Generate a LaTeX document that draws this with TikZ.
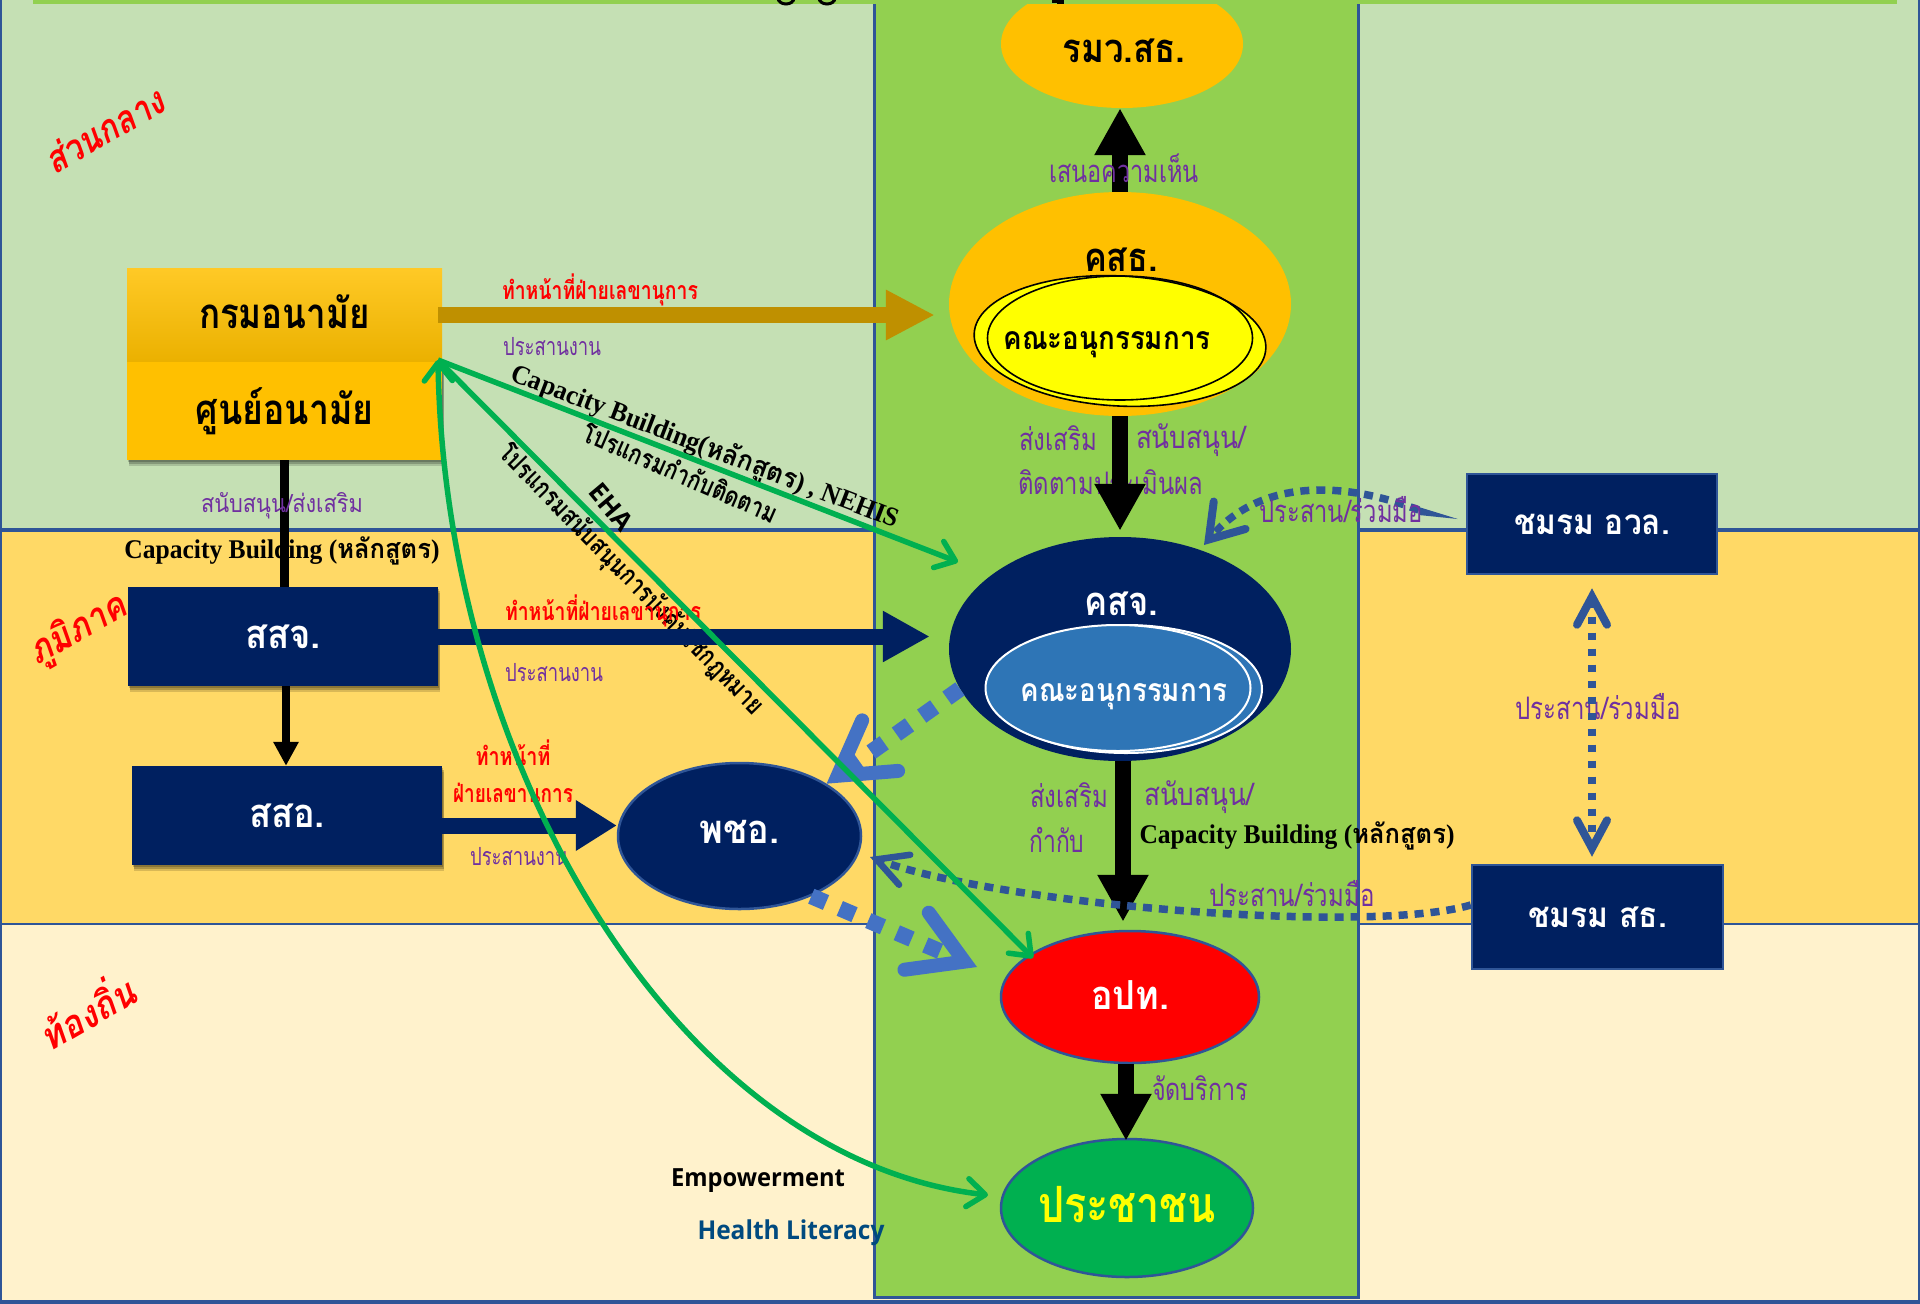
\documentclass[tikz,border=0pt]{standalone}
\usepackage{fontspec}
\usepackage{graphicx}
\usetikzlibrary{arrows.meta,shapes.geometric,shadows,calc}
\newfontfamily\thai[Script=Thai]{Loma}
\newfontfamily\serifL{Liberation Serif}
\newfontfamily\sansL{Open Sans}
\newcommand{\fitw}[2]{\resizebox{#1pt}{\height}{#2}}
\newcommand{\sz}[1]{\fontsize{#1pt}{#1pt}\selectfont}
\definecolor{bandA}{HTML}{C5E0B4}
\definecolor{bandB}{HTML}{FFD966}
\definecolor{bandC}{HTML}{FFF2CC}
\definecolor{midgreen}{HTML}{92D050}
\definecolor{edgeblue}{HTML}{2F5597}
\definecolor{navy}{HTML}{002060}
\definecolor{gold}{HTML}{FFC000}
\definecolor{darkgold}{HTML}{BF9000}
\definecolor{purp}{HTML}{7030A0}
\definecolor{lineg}{HTML}{00B050}
\definecolor{midblue}{HTML}{2E75B6}
\definecolor{dashblue}{HTML}{4472C4}
\definecolor{litblue}{HTML}{004A7F}
\definecolor{puryel}{HTML}{FFFF00}
\tikzset{
  x=1pt,y=-1pt,
  navybox/.style={rectangle,fill=navy,inner sep=0pt,text=white,font=\thai\bfseries\sz{40}},
  shadowed/.style={
    drop shadow={shadow xshift=1pt,shadow yshift=-2pt,opacity=.2,fill=black},
    drop shadow={shadow xshift=2pt,shadow yshift=-4pt,opacity=.2,fill=black},
    drop shadow={shadow xshift=2pt,shadow yshift=-6pt,opacity=.15,fill=black}},
  clubbox/.style={rectangle,fill=navy,draw=edgeblue,line width=2.5pt,inner sep=0pt,text=white,font=\thai\bfseries\sz{35}},
  oval/.style={ellipse,inner sep=0pt},
  plain/.style={inner sep=0pt,outer sep=0pt},
  redlbl/.style={plain,text=red,font=\thai\bfseries\sz{25}},
  purplbl/.style={plain,text=purp,font=\thai\sz{25}},
  purpbig/.style={plain,text=purp,font=\thai\sz{31}},
  blklbl/.style={plain,text=black,font=\thai\bfseries\sz{27}},
  zonelbl/.style={plain,text=red,font=\thai\bfseries\itshape\sz{38}},
  blockarrow/.style={line width=#1,-{Triangle[length=47pt,width=48pt]}},
  blockarrow/.default=16pt,
  greenline/.style={lineg,line width=5.5pt,-{Straight Barb[length=18pt,width=28pt,line width=5.5pt,round]}},
  dotline/.style={edgeblue,line width=7.5pt,dash pattern=on 9pt off 7pt},
  bigdash/.style={dashblue,line width=16pt,dash pattern=on 16pt off 15pt,
    -{Straight Barb[length=52pt,width=62pt,line width=14pt,line cap=round,line join=miter]}},
}
\begin{document}
\begin{tikzpicture}
\useasboundingbox (0,0) rectangle (1920,1304);
% bands
\fill[bandA] (0,0) rectangle (1920,530);
\fill[bandB] (0,530) rectangle (1920,924);
\fill[bandC] (0,924) rectangle (1920,1304);
\fill[edgeblue] (0,1300) rectangle (1920,1304);
\draw[edgeblue,line width=4pt] (0,530) -- (874,530);
\draw[edgeblue,line width=4pt] (1358,530) -- (1920,530);
\draw[edgeblue,line width=2.5pt] (0,924) -- (874,924);
\draw[edgeblue,line width=2.5pt] (1358,924) -- (1920,924);
\draw[edgeblue,line width=2pt] (1,0) -- (1,1304);
\draw[edgeblue,line width=2pt] (1919,0) -- (1919,1304);
\fill[midgreen] (33,0) rectangle (1897,4);
\fill[midgreen] (874,0) rectangle (1358,1297);
\draw[edgeblue,line width=3pt] (874,4) -- (874,1297) -- (1358,1297) -- (1358,4);
% clipped title remnants
\draw[black,line width=3pt] (786,-2) ellipse (8 and 6);
\draw[black,line width=3pt] (827,-2) ellipse (8 and 6);
\fill[black] (1057,0) rectangle (1064,7);
\fill[black] (1052,0) rectangle (1057,3);
% ovals, centre column
\begin{scope}
\clip (0,4) rectangle (1920,1304);
\node[oval,fill=gold,minimum width=242pt,minimum height=128pt] (rmw) at (1122,44) {};
\end{scope}
\node[plain,font=\thai\bfseries\sz{40}] (rmwt) at (1124,51) {\fitw{123}{รมว.สธ.}};
\node[oval,fill=gold,minimum width=342pt,minimum height=224pt] (kst) at (1120,304) {};
\node[plain,font=\thai\bfseries\sz{40}] (kstt) at (1121,260) {\fitw{74}{คสธ.}};
\node[oval,fill=puryel,draw=black,line width=1.6pt,minimum width=292pt,minimum height=130pt,rotate=-3] (sub1b) at (1120,341) {};
\node[oval,draw=black,line width=1.6pt,minimum width=265pt,minimum height=124pt] (sub1) at (1120,338) {};
\node[plain,font=\thai\bfseries\sz{32}] (sub1t) at (1107,345) {\fitw{207}{คณะอนุกรรมการ}};
\node[oval,fill=navy,minimum width=342pt,minimum height=224pt] (kco) at (1120,649) {};
\node[plain,text=white,font=\thai\bfseries\sz{40}] (kcot) at (1121,604) {\fitw{74}{คสจ.}};
\node[oval,fill=midblue,draw=white,line width=2pt,minimum width=272pt,minimum height=128pt] (sub2b) at (1126,689) {};
\node[oval,fill=midblue,draw=white,line width=2pt,minimum width=265pt,minimum height=126pt] (sub2) at (1118,688) {};
\node[plain,text=white,font=\thai\bfseries\sz{32}] (sub2t) at (1124,697) {\fitw{207}{คณะอนุกรรมการ}};
\node[oval,fill=red,draw=edgeblue,line width=2.5pt,minimum width=258pt,minimum height=132pt,text=white,font=\thai\bfseries\sz{40}] (opt) at (1130,997) {\raisebox{3pt}{\fitw{78}{อปท.}}};
\node[oval,fill=lineg,draw=edgeblue,line width=2.5pt,minimum width=252pt,minimum height=138pt,text=puryel,font=\thai\bfseries\sz{50}] (ppl) at (1127,1208) {\raisebox{7pt}{\fitw{178}{ประชาชน}}};
% boxes, left
\node[rectangle,inner sep=0pt,minimum width=315pt,minimum height=94pt,top color=gold!85!white,middle color=gold,bottom color=gold!92!black,font=\thai\bfseries\sz{42}] (hq1) at (284.5,315) {\raisebox{6pt}{\fitw{171}{กรมอนามัย}}};
\node[rectangle,inner sep=0pt,minimum width=315pt,minimum height=98pt,fill=gold,shadowed,font=\thai\bfseries\sz{42}] (hq2) at (284.5,411) {\raisebox{2pt}{\fitw{178}{ศูนย์อนามัย}}};
\node[navybox,shadowed,minimum width=310pt,minimum height=99pt] (sjo) at (283,636.5) {\fitw{76}{สสจ.}};
\node[navybox,shadowed,minimum width=310pt,minimum height=99pt] (sso) at (287,815.5) {\fitw{76}{สสอ.}};
\node[navybox,oval,draw=edgeblue,line width=2.5pt,minimum width=243pt,minimum height=146pt] (phc) at (739.5,836) {\raisebox{8pt}{\fitw{80}{พชอ.}}};
\node[clubbox,minimum width=250pt,minimum height=100pt] (zw) at (1592,524) {\fitw{156}{ชมรม อวล.}};
\node[clubbox,minimum width=251pt,minimum height=104pt] (zs) at (1597.5,917) {\fitw{139}{ชมรม สธ.}};
% labels drawn beneath the connectors
\node[blklbl,rotate=-45.6] (lprog) at (631,580) {\fitw{366}{โปรแกรมสนับสนุนการบังคับใช้กฎหมาย}};
\node[purpbig] (l1c) at (1111,482) {\fitw{185}{ติดตามประเมินผล}};
% block connectors
\draw[blockarrow,black] (kst.north) -- (kst.north |- rmw.south);
\draw[blockarrow,black,shorten >=6pt] (kst.south) -- (kst.south |- kco.north);
\draw[blockarrow,black,shorten >=8pt] ([xshift=3pt]kco.south) -- ([xshift=3pt]kco.south |- opt.north);
\draw[blockarrow,black] ([xshift=-4pt]opt.south) -- ([xshift=-4pt,yshift=-3pt]opt.south |- ppl.north);
\draw[black,line width=8.5pt] (hq2.south) -- (hq2.south |- sjo.north);
\draw[black,line width=8pt,-{Triangle[length=24pt,width=24pt]}] ([xshift=3pt]sjo.south) -- ([xshift=3pt]sjo.south |- sso.north);
\draw[darkgold,line width=16pt,-{Triangle[length=49pt,width=47pt]},shorten >=14pt] ([xshift=-4pt]hq1.east) -- (hq1.east -| kst.west);
\draw[navy,line width=16pt,-{Triangle[length=47pt,width=48pt]},shorten >=19pt] (sjo.east) -- (sjo.east -| kco.west);
\draw[navy,line width=16pt,-{Triangle[length=41pt,width=48pt]}] ([yshift=-10pt]sso.east) -- ([yshift=-10pt]sso.east -| phc.west);
% labels
\node[zonelbl,rotate=30] (z1) at (104,130) {\fitw{132}{ส่วนกลาง}};
\node[zonelbl,rotate=30] (z2) at (78,630) {\fitw{106}{ภูมิภาค}};
\node[zonelbl,rotate=30] (z3) at (85,1010) {\fitw{104}{ท้องถิ่น}};
\node[redlbl] (r1) at (600,290) {\fitw{196}{ทำหน้าที่ฝ่ายเลขานุการ}};
\node[purplbl] (p1) at (552,347) {\fitw{98}{ประสานงาน}};
\node[redlbl] (r2) at (603,611) {\fitw{196}{ทำหน้าที่ฝ่ายเลขานุการ}};
\node[purplbl] (p2) at (554,673) {\fitw{98}{ประสานงาน}};
\node[redlbl] (r3) at (513,753) {\fitw{75}{ทำหน้าที่}};
\node[redlbl] (r4) at (513,796) {\fitw{120}{ฝ่ายเลขานุการ}};
\node[purplbl] (p3) at (519,857) {\fitw{98}{ประสานงาน}};
\node[blklbl,rotate=-21] (lcap) at (705,447) {\fitw{413}{{\serifL Capacity Building(}หลักสูตร{\serifL ) , NEHIS}}};
\node[blklbl,rotate=-23.6] (lmon) at (681,472) {\fitw{210}{โปรแกรมกำกับติดตาม}};
\node[plain,rotate=-50,font=\sansL\bfseries\sz{26}] (leha) at (611,507) {EHA};
\node[purplbl] (p4) at (282,506) {\fitw{162}{สนับสนุน/ส่งเสริม}};
\node[blklbl] (cb1) at (282,551) {\fitw{315}{{\serifL Capacity Building (}หลักสูตร{\serifL )}}};
\node[purpbig] (p5) at (1124,168) {\fitw{150}{เสนอความเห็น}};
\node[purpbig] (p6) at (1058,438) {\fitw{78}{ส่งเสริม}};
\node[purpbig] (p7) at (1191,440) {\fitw{110}{สนับสนุน/}};
\node[purpbig] (p8) at (1069,795) {\fitw{78}{ส่งเสริม}};
\node[purpbig] (p9) at (1199,797) {\fitw{110}{สนับสนุน/}};
\node[purpbig] (p10) at (1057,840) {\fitw{55}{กำกับ}};
\node[blklbl] (cb2) at (1297,836) {\fitw{315}{{\serifL Capacity Building (}หลักสูตร{\serifL )}}};
\node[purpbig] (p11) at (1200,1088) {\fitw{96}{จัดบริการ}};
\node[purpbig] (p13) at (1598,707) {\fitw{165}{ประสาน/ร่วมมือ}};
\node[plain,font=\sansL\bfseries\sz{25}] (emp) at (758,1181) {\fitw{174}{Empowerment}};
\node[plain,text=litblue,font=\sansL\bfseries\sz{26}] (hl) at (791,1233) {\fitw{187}{Health Literacy}};
% dotted connectors
\coordinate (wedge) at ([xshift=-47pt,yshift=14pt]zw.west);
\fill[edgeblue] ([xshift=-8pt,yshift=5pt]zw.west) -- ([xshift=-47pt,yshift=17pt]zw.west) -- ([xshift=-47pt,yshift=9pt]zw.west) -- cycle;
\coordinate (kcoin) at (1204,545);
\draw[dotline,-{Straight Barb[length=32pt,width=42pt,line width=8pt,line cap=round,line join=miter]}] (wedge) .. controls (1340,480) and (1260,480) .. (kcoin);
\draw[dotline,line width=8pt,dash pattern=on 7pt off 9pt,{Straight Barb[length=28pt,width=30pt,line width=8pt,line cap=round,line join=miter]}-{Straight Barb[length=28pt,width=30pt,line width=8pt,line cap=round,line join=miter]}] ([yshift=-13pt]zw.south) -- ([yshift=7pt]zs.north -| zw.south);
\coordinate (phcin) at (870,857);
\draw[dotline,-{Straight Barb[length=30pt,width=32pt,line width=6.5pt,line cap=round,line join=miter]}] ([yshift=12pt]zs.west) .. controls (1370,935) and (1000,905) .. (phcin);
\draw[bigdash] (kco.194) -- (phc.31);
\coordinate (optgap) at (977,967);
\draw[bigdash] (phc.-40) -- (optgap);
\node[purpbig] (p12) at (1341,510) {\fitw{163}{ประสาน/ร่วมมือ}};
\node[purpbig] (p14) at (1292,894) {\fitw{165}{ประสาน/ร่วมมือ}};
% green connectors
\coordinate (hub) at (438,360);
\coordinate (kgreen) at (958,562);
\coordinate (ogreen) at (1033,958);
\coordinate (pgreen) at (988,1195);
\draw[greenline] (hub) -- (kgreen);
\draw[greenline] (hub) -- (ogreen);
\draw[greenline,{Straight Barb[length=18pt,width=28pt,line width=5.5pt,round]}-{Straight Barb[length=18pt,width=28pt,line width=5.5pt,round]}] (hub) .. controls (445,770) and (680,1160) .. (pgreen);
\end{tikzpicture}
\end{document}
